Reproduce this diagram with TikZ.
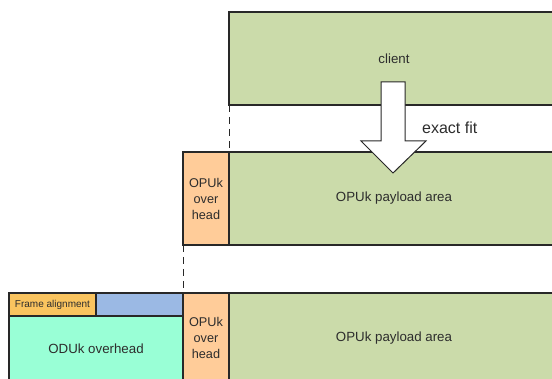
\documentclass[tikz,border=0pt]{standalone}
\usepackage{fontspec}
\setmainfont{Liberation Sans}
\definecolor{payload}{RGB}{203,219,170}
\definecolor{opuoh}{RGB}{255,204,153}
\definecolor{framecol}{RGB}{250,196,95}
\definecolor{bluecol}{RGB}{155,185,228}
\definecolor{oducol}{RGB}{153,255,214}
\definecolor{edgecol}{RGB}{40,40,40}
\definecolor{txtcol}{RGB}{45,45,45}
\begin{document}
\begin{tikzpicture}[x=1pt,y=-1pt,
  box/.style={draw=edgecol,line width=1.3pt,rectangle,inner sep=0pt,outer sep=0pt,anchor=north west,
    text=txtcol,font=\fontsize{13.3}{15}\selectfont,align=center},
  guide/.style={draw=edgecol,line width=1pt,dash pattern=on 7pt off 5pt}]
\useasboundingbox (0,0) rectangle (552,379);
\begin{scope}
\clip (0,0) rectangle (552,379);
% top: client
\node[box,fill=payload,minimum width=330pt,minimum height=93pt] (client) at (229,12) {client};
% middle row
\node[box,fill=opuoh,minimum width=46pt,minimum height=93pt,font=\fontsize{12.7}{16}\selectfont] (opuoh1) at (183,152) {OPUk\\over\\head};
\node[box,fill=payload,minimum width=330pt,minimum height=93pt] (pay1) at (229,152) {OPUk payload area};
% bottom row
\node[box,fill=framecol,minimum width=87pt,minimum height=23pt,font=\fontsize{10}{12}\selectfont] (fa) at (9,293) {Frame alignment};
\node[box,fill=bluecol,minimum width=87pt,minimum height=23pt] (blue) at (96,293) {};
\node[box,fill=oducol,minimum width=174pt,minimum height=66pt] (odu) at (9,316) {ODUk overhead};
\node[box,fill=opuoh,minimum width=46pt,minimum height=90pt,font=\fontsize{12.7}{16}\selectfont] (opuoh2) at (183,293) {OPUk\\over\\head};
\node[box,fill=payload,minimum width=330pt,minimum height=90pt] (pay2) at (229,293) {OPUk payload area};
\end{scope}
% dashed guides
\draw[guide] (client.south west) -- (pay1.north west);
\draw[guide] (opuoh1.south west) -- (opuoh2.north west);
% block arrow
\draw[draw=edgecol,line width=1pt,fill=white,line join=miter]
  (381,82) -- (405,82) -- (405,141) -- (426,141) -- (393,173) -- (361,141) -- (381,141) -- cycle;
\node[anchor=west,inner sep=0pt,text=txtcol,font=\fontsize{16}{18}\selectfont] (fit) at (422,128) {exact fit};
\end{tikzpicture}
\end{document}
